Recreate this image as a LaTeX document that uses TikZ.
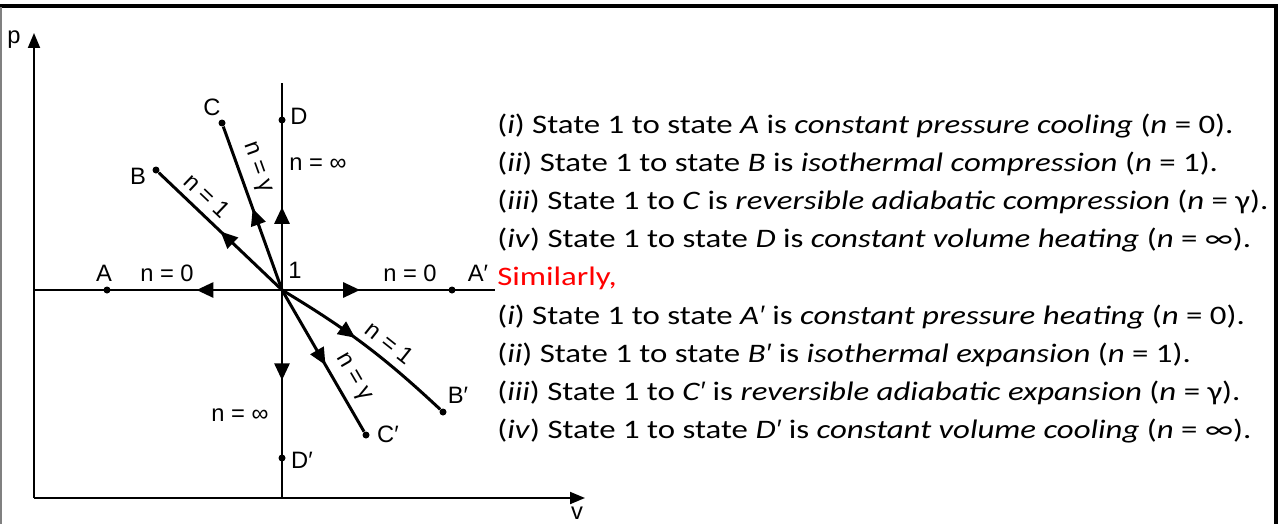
\documentclass[tikz,border=0pt]{standalone}
\usepackage{fontspec}
\setmainfont{Carlito}[FakeStretch=1.23]
\newfontfamily\labelfont{Liberation Sans}
\newcommand{\prm}{{\labelfont ′}}
\usetikzlibrary{arrows.meta, decorations.markings, calc}

\begin{document}
\begin{tikzpicture}[
  x=0.02cm, y=-0.02cm,
  every node/.style={font=\labelfont\fontsize{13.5}{16}\selectfont, inner sep=0pt},
  dot/.style={circle, fill=black, minimum size=1.4mm},
  proc/.style={line width=1.7pt},
  guide/.style={line width=0.7pt},
  axis/.style={line width=1.1pt, -{Triangle[length=3mm, width=2.4mm]}},
  midarrow/.style={postaction={decorate}, decoration={markings,
    mark=at position #1 with {\arrow{Triangle[length=3.4mm, width=3mm]}}}},
  nlabel/.style={sloped, above=4pt},
  txt/.style={anchor=base west, font=\fontsize{15.2}{18}\selectfont},
]
\useasboundingbox (0,0) rectangle (1279,524);

% frame
\draw[line width=2.4pt] (0,6) -- (1276,6) -- (1276,524);
\draw[gray, line width=1pt] (1,7) -- (1,524);

% axes
\coordinate (orig) at (34,498);
\coordinate (ptip) at (34,33);
\coordinate (vtip) at (585,498);
\draw[axis] (orig) -- (ptip);
\draw[axis] (orig) -- (vtip);
\node (p) at (14,40) {p};
\node (v) at (577,513) {v};

% state 1 and guide lines
\coordinate (s1) at (282,290);
\coordinate (hl) at (34,290);
\coordinate (hr) at (495,290);
\coordinate (vt) at (282,83);
\coordinate (vb) at (282,498);
\draw[guide] (hl) -- (hr);
\draw[guide] (vt) -- (vb);
\node (one) at (295,270) {1};

% end states
\node[dot] (A) at (107,290) {};
\node[dot] (Ap) at (452,290) {};
\node[dot] (B) at (156,170) {};
\node[dot] (Bp) at (443,412) {};
\node[dot] (C) at (222,123) {};
\node[dot] (Cp) at (366,435) {};
\node[dot] (D) at (282,120) {};
\node[dot] (Dp) at (282,458) {};

\node (lA) at (104,273) {A};
\node (lAp) at (478,273) {A′};
\node (lB) at (138,176) {B};
\node (lBp) at (458,395) {B′};
\node (lC) at (212,107) {C};
\node (lCp) at (388,434) {C′};
\node (lD) at (299,116) {D};
\node (lDp) at (302,460) {D′};

% processes
\draw[proc, midarrow=0.5] (s1) -- (A);
\draw[proc, midarrow=0.47] (s1) -- (Ap);
\draw[proc, midarrow=0.5] (s1) -- node[nlabel, pos=0.7] (nB) {n = 1} (B);
\draw[proc, midarrow=0.44] (s1) to[bend left=6] node[nlabel, pos=0.6] (nBp) {n = 1} (Bp);
\draw[proc, midarrow=0.5] (s1) -- node[nlabel, pos=0.71] (nC) {n = γ} (C);
\draw[proc, midarrow=0.53] (s1) -- node[nlabel, pos=0.68] (nCp) {n = γ} (Cp);
\draw[proc, midarrow=0.5] (s1) -- (D);
\draw[proc, midarrow=0.55] (s1) -- (Dp);

\node (nA) at (167,273) {n = 0};
\node (nAp) at (410,273) {n = 0};
\node (nD) at (318,164) {n = ∞};
\node (nDp) at (240,415) {n = ∞};

% explanation
\node[txt] (l1) at (497,133) {(\textit{i}) State 1 to state \textit{A} is \textit{constant pressure cooling} (\textit{n} = 0).};
\node[txt] (l2) at (497,171) {(\textit{ii}) State 1 to state \textit{B} is \textit{isothermal compression} (\textit{n} = 1).};
\node[txt] (l3) at (497,209) {(\textit{iii}) State 1 to \textit{C} is \textit{reversible adiabatic compression} (\textit{n} = γ).};
\node[txt] (l4) at (497,247) {(\textit{iv}) State 1 to state \textit{D} is \textit{constant volume heating} (\textit{n} = ∞).};
\node[txt, text=red] (sim) at (497,285) {Similarly,};
\node[txt] (l5) at (497,324) {(\textit{i}) State 1 to state \textit{A\prm} is \textit{constant pressure heating} (\textit{n} = 0).};
\node[txt] (l6) at (497,362) {(\textit{ii}) State 1 to state \textit{B\prm} is \textit{isothermal expansion} (\textit{n} = 1).};
\node[txt] (l7) at (497,400) {(\textit{iii}) State 1 to \textit{C\prm} is \textit{reversible adiabatic expansion} (\textit{n} = γ).};
\node[txt] (l8) at (497,438) {(\textit{iv}) State 1 to state \textit{D\prm} is \textit{constant volume cooling} (\textit{n} = ∞).};
\end{tikzpicture}
\end{document}
